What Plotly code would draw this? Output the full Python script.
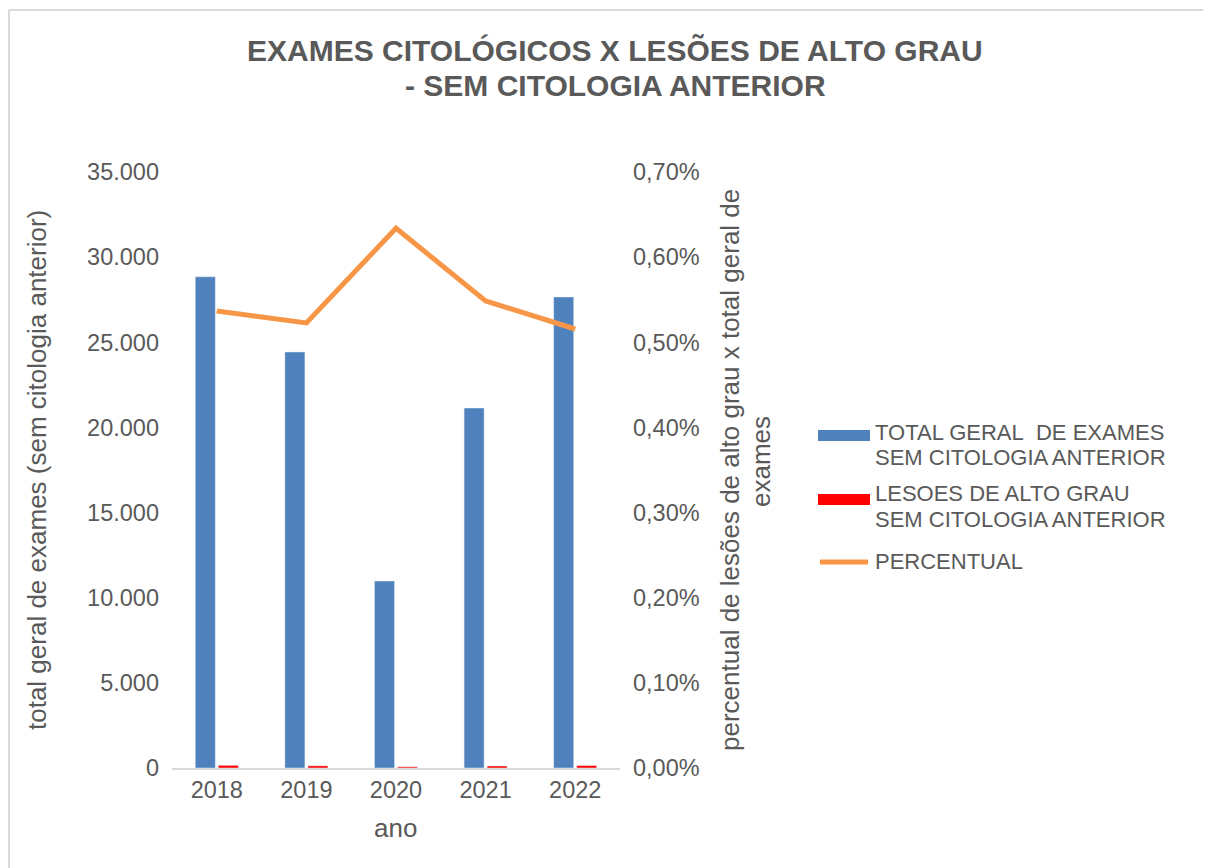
import plotly.graph_objects as go

anos = ["2018", "2019", "2020", "2021", "2022"]
total_exames = [28850, 24430, 10980, 21140, 27660]
lesoes_alto_grau = [155, 128, 70, 116, 143]
percentual = [0.005367, 0.005227, 0.006340, 0.005485, 0.005156]

title_lines = ["EXAMES CITOLÓGICOS X LESÕES DE ALTO GRAU", "- SEM CITOLOGIA ANTERIOR"]
legend_lines = [
    ["TOTAL GERAL&nbsp; DE EXAMES", "SEM CITOLOGIA ANTERIOR"],
    ["LESOES DE ALTO GRAU", "SEM CITOLOGIA ANTERIOR"],
    ["PERCENTUAL"],
]
y_title = "total geral de exames (sem citologia anterior)"
y2_title_lines = ["percentual de lesões de alto grau x total geral de", "exames"]
x_title = "ano"

BLUE = "#4f81bd"
RED = "#ff0000"
ORANGE = "#f79646"
TXT = "#595959"
FONT = "Liberation Sans, Arial, Helvetica, sans-serif"

OFF = 8  # page body margin
W, H = 1211, 868
L, R, T, B = 172, 620, 172, 768


def px(x):
    return (x - L) / (R - L)


def py(y):
    return (B - y) / (B - T)


fig = go.Figure()
fig.add_trace(go.Bar(x=anos, y=total_exames, marker_color=BLUE, showlegend=False))
fig.add_trace(go.Bar(x=anos, y=lesoes_alto_grau, marker_color=RED, showlegend=False))
fig.add_trace(go.Scatter(x=anos, y=percentual, yaxis="y2", mode="lines",
                         line=dict(color=ORANGE, width=5), showlegend=False))

shapes = [
    dict(type="line", xref="paper", yref="paper", x0=px(9), x1=px(W + 5), y0=py(10), y1=py(10),
         line=dict(color="#d9d9d9", width=2)),
    dict(type="line", xref="paper", yref="paper", x0=px(9), x1=px(9), y0=py(10), y1=py(H + 5),
         line=dict(color="#d9d9d9", width=2)),
    dict(type="rect", xref="paper", yref="paper", x0=px(818), x1=px(870), y0=py(430), y1=py(441),
         fillcolor=BLUE, line=dict(width=0)),
    dict(type="rect", xref="paper", yref="paper", x0=px(818), x1=px(870), y0=py(494), y1=py(505),
         fillcolor=RED, line=dict(width=0)),
    dict(type="line", xref="paper", yref="paper", x0=px(820), x1=px(868), y0=py(562), y1=py(562),
         line=dict(color=ORANGE, width=5)),
]


def ann(text, x, y, size, xanchor="center", angle=0, bold=False):
    return dict(text=text, textangle=angle, xref="paper", yref="paper", x=px(x), y=py(y),
                xanchor=xanchor, yanchor="middle", showarrow=False, align="left",
                font=dict(size=size, color=TXT, family=FONT, weight="bold" if bold else "normal"))


annotations = [
    ann(title_lines[0], 615, 50, 30, bold=True),
    ann(title_lines[1], 615, 85, 30, bold=True),
    ann(y_title, 37, 470, 26, angle=-90),
    ann(y2_title_lines[0], 730, 470, 26, angle=-90),
    ann(y2_title_lines[1], 761, 462, 26, angle=-90),
    ann(x_title, 395, 828, 26),
]
leg_y = [[432, 457.5], [494, 519.5], [561]]
for lines, ys in zip(legend_lines, leg_y):
    for t, yy in zip(lines, ys):
        annotations.append(ann(t, 873, yy, 22, xanchor="left"))

fig.update_layout(
    width=W - OFF, height=H - OFF,
    margin=dict(l=L - OFF, r=W - R, t=T - OFF, b=H - B),
    paper_bgcolor="white", plot_bgcolor="white",
    separators=",.",
    barmode="group", bargap=0.486, bargroupgap=0.13,
    font=dict(family=FONT, color=TXT, size=23),
    xaxis=dict(showline=True, linecolor="#d9d9d9", linewidth=2, showgrid=False,
               ticks="", tickfont=dict(size=23.5, color=TXT)),
    yaxis=dict(range=[0, 35000], dtick=5000, tickformat=",d", showgrid=False,
               showline=False, zeroline=False, ticks="", ticklabelstandoff=12,
               tickfont=dict(size=23.5, color=TXT)),
    yaxis2=dict(range=[0, 0.007], dtick=0.001, tickformat=".2%", overlaying="y",
                side="right", showgrid=False, showline=False, zeroline=False, ticks="",
                ticklabelstandoff=12, tickfont=dict(size=23.5, color=TXT)),
    shapes=shapes,
    annotations=annotations,
    showlegend=False,
)

fig.write_html("out.html")
